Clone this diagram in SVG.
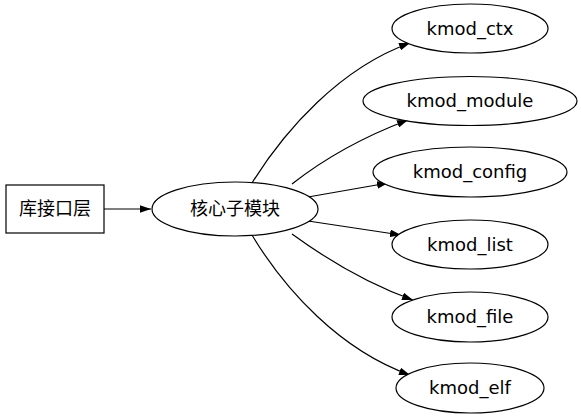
<svg xmlns="http://www.w3.org/2000/svg" width="581" height="419" viewBox="0 0 581 419">
<style>
.n{fill:#fff;stroke:#000;stroke-width:1.2}
.t{font-family:"DejaVu Sans","Noto Sans CJK SC",sans-serif;font-size:18px;text-anchor:middle;fill:#000}
.e{fill:none;stroke:#000;stroke-width:1.2;marker-end:url(#a)}
</style>
<defs>
<marker id="a" viewBox="0 0 10 7" refX="10" refY="3.5" markerUnits="userSpaceOnUse" markerWidth="11" markerHeight="8" orient="auto">
<path d="M0,0 L10,3.5 L0,7 z" fill="#000"/>
</marker>
</defs>
<rect width="581" height="419" fill="#fff"/>
<g id="edges">
<path class="e" d="M104,209 L151,209"/>
<path class="e" d="M252,183 C285,130 340,68 410,43"/>
<path class="e" d="M292,184 C320,162 360,138 408,120"/>
<path class="e" d="M308,197 L388,183"/>
<path class="e" d="M308,221 L401,235"/>
<path class="e" d="M292,234 C325,258 365,283 413,300"/>
<path class="e" d="M252,235 C285,290 340,350 410,375"/>
</g>
<g id="lib"><rect class="n" x="6" y="185" width="98" height="48"/><text class="t" x="55" y="215">库接口层</text></g>
<g id="core"><ellipse class="n" cx="235" cy="209" rx="83" ry="27"/><text class="t" x="235" y="215">核心子模块</text></g>
<g id="ctx"><ellipse class="n" cx="470" cy="28.5" rx="78" ry="24.5"/><text class="t" x="470" y="34.5">kmod_ctx</text></g>
<g id="module"><ellipse class="n" cx="470" cy="101" rx="107" ry="24.5"/><text class="t" x="470" y="107">kmod_module</text></g>
<g id="config"><ellipse class="n" cx="470" cy="172" rx="97" ry="25"/><text class="t" x="470" y="178">kmod_config</text></g>
<g id="list"><ellipse class="n" cx="470" cy="244.5" rx="78" ry="24.5"/><text class="t" x="470" y="250.5">kmod_list</text></g>
<g id="file"><ellipse class="n" cx="470" cy="317" rx="78" ry="25"/><text class="t" x="470" y="323">kmod_file</text></g>
<g id="elf"><ellipse class="n" cx="470" cy="388" rx="74" ry="25"/><text class="t" x="470" y="394">kmod_elf</text></g>
</svg>
